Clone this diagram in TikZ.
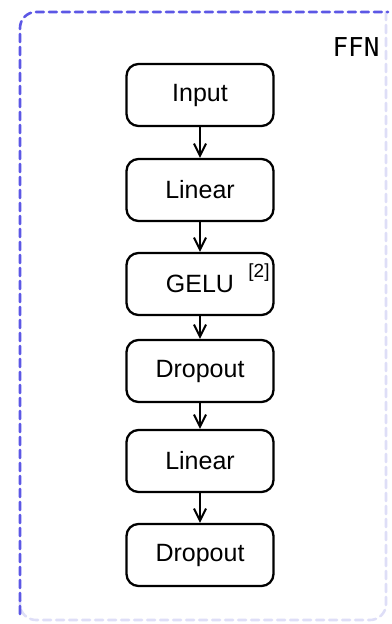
\documentclass[tikz,border=0pt]{standalone}
\usepackage{fontspec}
\setmainfont{Liberation Sans}
\setmonofont{DejaVu Sans Mono}
\usetikzlibrary{arrows.meta}
\definecolor{ffnblue}{rgb}{0.36,0.34,0.9}
\definecolor{ffnpale}{rgb}{0.87,0.87,0.97}

\begin{document}
\begin{tikzpicture}[line cap=round,line join=round,>={Straight Barb[length=6pt,width=6pt]},x=0.5pt,y=-0.5pt]
	\tikzset{blk/.style={draw,line width=1.15pt,rounded corners=6pt,minimum width=73.5pt,minimum height=31pt,font=\fontsize{12.5}{15}\selectfont}}
	\useasboundingbox (0,0) rectangle (391,624);
	% dashed frame of the block
	\draw[ffnpale,line width=1.3pt,dash pattern=on 4pt off 2.5pt,rounded corners=8pt] (386,12) -- (386,620) -- (20,620) -- (20,600);
	\draw[ffnblue,line width=1.3pt,dash pattern=on 4pt off 2.5pt,rounded corners=8pt] (20,614) -- (20,12) -- (388,12);
	\node[font=\ttfamily\fontsize{13}{15}\selectfont] (ffn) at (356,47) {FFN};
	% layers
	\node[blk] (inp) at (200,95) {Input};
	\node[blk] (lin1) at (200,190) {Linear};
	\node[blk] (gelu) at (200,284) {GELU};
	\node[font=\fontsize{9.5}{11}\selectfont] (ref) at (259,273) {[2]};
	\node[blk] (drop1) at (200,371) {Dropout};
	\node[blk] (lin2) at (200,461) {Linear};
	\node[blk] (drop2) at (200,555) {Dropout};
	\foreach \a/\b in {inp/lin1,lin1/gelu,gelu/drop1,drop1/lin2,lin2/drop2}
	\draw[->,line width=1pt] (\a) -- (\b);
\end{tikzpicture}
\end{document}
